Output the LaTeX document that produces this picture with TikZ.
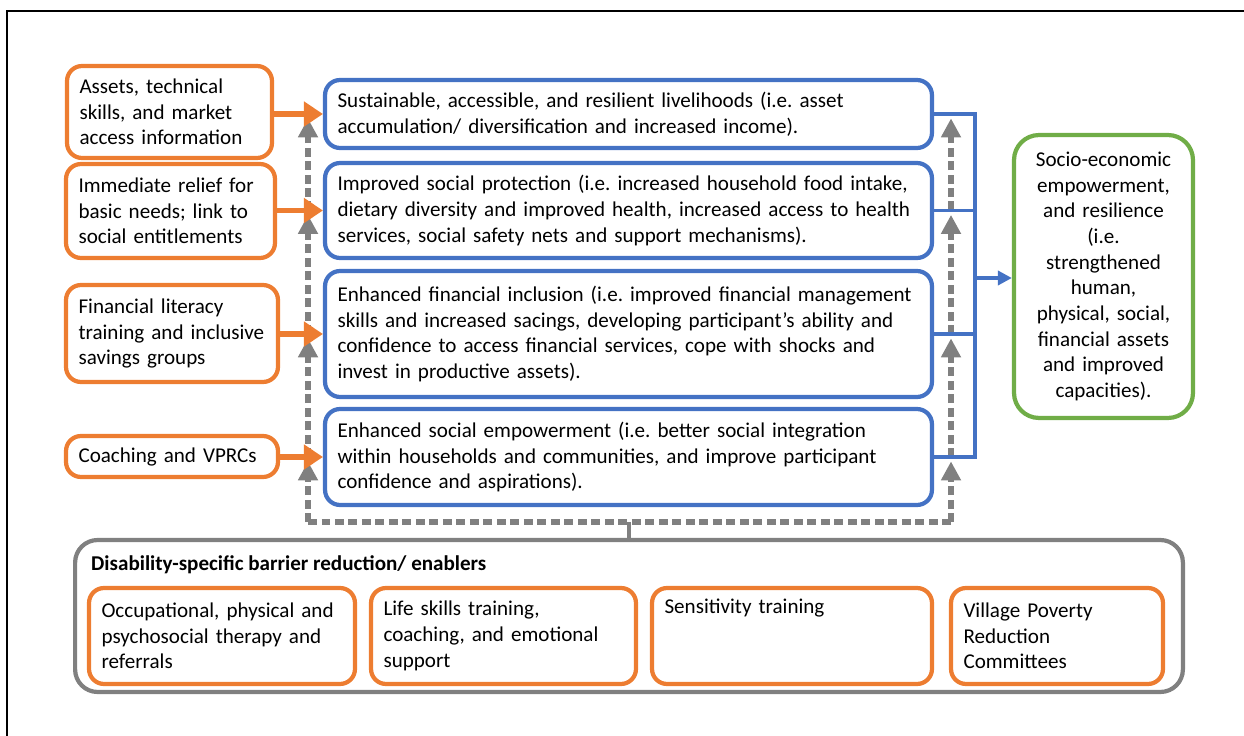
\documentclass[tikz,border=0pt]{standalone}
\usepackage{fontspec}
\setmainfont{Carlito}
\usetikzlibrary{arrows.meta}

\definecolor{boxorange}{HTML}{ED7D31}
\definecolor{boxblue}{HTML}{4472C4}
\definecolor{boxgreen}{HTML}{70AD47}
\definecolor{boxgray}{HTML}{808080}

\begin{document}
\frenchspacing
\begin{tikzpicture}[x=0.02cm, y=-0.02cm,
    every node/.style={font=\fontsize{12}{14.6}\selectfont},
    inbox/.style={draw=boxorange, line width=2.4pt, rounded corners=0.3cm, align=left, inner xsep=0.25cm},
    outbox/.style={draw=boxblue, line width=2.4pt, rounded corners=0.3cm, align=left, inner xsep=0.25cm, text width=11.64cm},
    goalbox/.style={draw=boxgreen, line width=2.4pt, rounded corners=0.5cm, align=center, text width=3.1cm, minimum width=3.58cm, minimum height=5.66cm},
    enabler/.style={draw=boxorange, line width=2.4pt, rounded corners=0.3cm, align=left, inner xsep=0.25cm, minimum height=1.92cm},
    barrier/.style={draw=boxgray, line width=2.4pt, rounded corners=0.45cm},
    feed/.style={draw=boxorange, line width=3pt, -{Triangle[length=0.38cm,width=0.48cm]}},
    link/.style={draw=boxblue, line width=2.2pt},
    dashline/.style={draw=boxgray, line width=3.2pt, dash pattern=on 0.18cm off 0.09cm},
    support/.style={dashline, -{Triangle[length=0.38cm,width=0.38cm]}, shorten >=2.5pt}]
  \useasboundingbox (0,0) rectangle (1244,736);
  \draw[line width=1.1pt] (7,736) -- (7,11) -- (1244,11);

  % inputs on the left
  \node[inbox, text width=3.6cm, minimum height=1.84cm] (in1) at (169.5,112) {Assets, technical\\ skills, and market\\ access information};
  \node[inbox, text width=3.68cm, minimum height=1.88cm] (in2) at (170.5,211) {Immediate relief for\\ basic needs; link to\\ social entitlements};
  \node[inbox, text width=3.74cm, minimum height=1.94cm] (in3) at (172,333.5) {Financial literacy\\ training and inclusive\\ savings groups};
  \node[inbox, text width=3.74cm, minimum height=0.82cm] (in4) at (172,456.5) {Coaching and VPRCs};

  % outcomes
  \node[outbox, minimum height=1.36cm] (out1) at (628.5,114) {Sustainable, accessible, and resilient livelihoods (i.e. asset\\ accumulation/ diversification and increased income).};
  \node[outbox, minimum height=1.9cm] (out2) at (628.5,210.5) {Improved social protection (i.e. increased household food intake,\\ dietary diversity and improved health, increased access to health\\ services, social safety nets and support mechanisms).};
  \node[outbox, minimum height=2.52cm] (out3) at (628.5,334) {Enhanced financial inclusion (i.e. improved financial management\\ skills and increased sacings, developing participant’s ability and\\ confidence to access financial services, cope with shocks and\\ invest in productive assets).};
  \node[outbox, minimum height=1.92cm] (out4) at (628.5,457) {Enhanced social empowerment (i.e. better social integration\\ within households and communities, and improve participant\\ confidence and aspirations).};

  \node[goalbox] (goal) at (1103.5,276.5) {Socio-economic\\ empowerment,\\ and resilience\\ (i.e.\\ strengthened\\ human,\\ physical, social,\\ financial assets\\ and improved\\ capacities).};

  % enablers at the bottom
  \node[barrier, minimum width=22.16cm, minimum height=3.04cm] (barrier) at (629,616) {};
  \node[anchor=west, font=\fontsize{12}{14.6}\selectfont\bfseries] (btitle) at (85,565) {Disability-specific barrier reduction/ enablers};
  \node[enabler, text width=4.82cm] (en1) at (222,636) {Occupational, physical and\\ psychosocial therapy and\\ referrals};
  \node[enabler, text width=4.8cm] (en2) at (503.5,636) {Life skills training,\\ coaching, and emotional\\ support};
  \node[enabler, text width=5.1cm] (en3) at (792,636) {Sensitivity training\\ \strut\\ \strut};
  \node[enabler, text width=3.74cm] (en4) at (1057,636) {Village Poverty\\ Reduction\\ Committees};

  % dashed support lines
  \coordinate (lbus) at (308,522);
  \coordinate (rbus) at (951,522);
  \draw[dashline] (lbus) -- (rbus);
  \draw[draw=boxgray, line width=2.4pt] (barrier.north) -- (barrier.north |- lbus);
  \draw[support] (lbus) -- (lbus |- out4.west);
  \draw[support] (rbus) -- (rbus |- out4.east);
  \foreach \a/\b in {4/3,3/2,2/1} {
    \draw[support] (lbus |- out\a.west) -- (lbus |- out\b.west);
    \draw[support] (rbus |- out\a.east) -- (rbus |- out\b.east);
  }

  \foreach \i in {1,...,4}
    \draw[feed] (in\i.east |- out\i.west) -- (out\i.west);

  \coordinate (bus) at (975,278);
  \foreach \i in {1,...,4}
    \draw[link] (out\i.east) -| (bus);
  \draw[link, -{Triangle[length=0.28cm,width=0.28cm]}] (bus) -- (bus -| goal.west);
\end{tikzpicture}
\end{document}
